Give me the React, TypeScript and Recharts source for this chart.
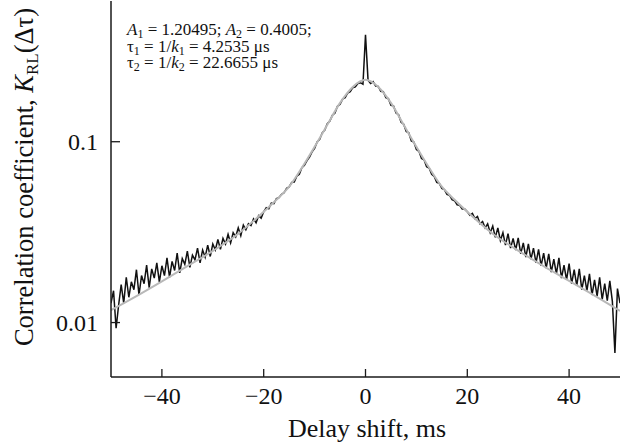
import { LineChart, Line, XAxis, YAxis } from 'recharts';

// measured correlation, sampled every 0.5 ms from -50 ms
const DELAY_START = -50;
const DELAY_STEP = 0.5;
const K_MEASURED = [
  0.0128, 0.015, 0.0093, 0.0125, 0.0162, 0.0128, 0.0178, 0.0138, 0.0168, 0.0152,
  0.0196, 0.0142, 0.0182, 0.0164, 0.0208, 0.0156, 0.0198, 0.0176, 0.0214, 0.0168,
  0.0206, 0.0182, 0.0228, 0.0178, 0.0218, 0.0194, 0.0242, 0.0188, 0.0226, 0.021,
  0.0248, 0.0202, 0.0236, 0.0222, 0.0258, 0.0214, 0.0252, 0.023, 0.0268, 0.0232,
  0.0272, 0.0252, 0.0288, 0.0254, 0.0292, 0.0272, 0.0308, 0.0276, 0.0314, 0.0298,
  0.0334, 0.0302, 0.0346, 0.0326, 0.0352, 0.0344, 0.0374, 0.0356, 0.039, 0.0378,
  0.041,
  0.0432, 0.0426, 0.0458, 0.0455, 0.0484, 0.049, 0.0512, 0.0522, 0.0552, 0.0562,
  0.0596, 0.0598, 0.0645, 0.066, 0.0718, 0.074, 0.0786, 0.0822, 0.0878, 0.092,
  0.0996, 0.103, 0.112, 0.116, 0.126, 0.13, 0.14, 0.144, 0.157, 0.161,
  0.172, 0.175, 0.186, 0.189, 0.199, 0.201, 0.21, 0.212, 0.208,
  0.39,
  0.219, 0.21, 0.215, 0.203, 0.202, 0.19, 0.189, 0.175, 0.173, 0.159,
  0.158, 0.144, 0.141, 0.128, 0.125, 0.114, 0.112, 0.101, 0.0995, 0.0905,
  0.0885, 0.0808, 0.0795, 0.0728, 0.0715, 0.066, 0.0642, 0.0596, 0.0588, 0.0552,
  0.0543, 0.0512, 0.0506, 0.0478, 0.0472, 0.0448, 0.0445, 0.0424, 0.0424,
  0.041, 0.0392, 0.0402, 0.0376, 0.0386, 0.0352, 0.0362, 0.0334, 0.0352, 0.0314,
  0.0342, 0.0296, 0.0334, 0.0284, 0.0314, 0.0268, 0.031, 0.0258, 0.0292, 0.0252,
  0.0294, 0.024, 0.0276, 0.023, 0.0272, 0.0224, 0.0258, 0.0214, 0.0254, 0.0206,
  0.0242, 0.02, 0.024, 0.019, 0.0224, 0.0186, 0.0228, 0.0176, 0.0208, 0.0172,
  0.0212, 0.0164, 0.0196, 0.016, 0.0198, 0.0152, 0.0182, 0.015, 0.0186, 0.0142,
  0.0172, 0.014, 0.0178, 0.0134, 0.0164, 0.0132, 0.017, 0.0131, 0.0068, 0.0154,
  0.0128,
];

// two-exponential fit (gray curve)
const FIT_DELAY = [
  -50, -45, -40, -35, -30, -25, -20, -17.5, -15, -12.5, -10, -7.5, -5, -2.5, 0,
  2.5, 5, 7.5, 10, 12.5, 15, 17.5, 20, 25, 30, 35, 40, 45, 50,
];
const FIT_K = [
  0.0117, 0.014, 0.0169, 0.0205, 0.0249, 0.031, 0.041, 0.0478, 0.0564, 0.0718,
  0.0938, 0.124, 0.164, 0.201, 0.22, 0.201, 0.164, 0.124, 0.0938, 0.0718,
  0.0564, 0.0478, 0.041, 0.031, 0.025, 0.0205, 0.017, 0.0141, 0.0116,
];

const X_TICKS = [-40, -20, 0, 20, 40];
const Y_TICKS = [0.01, 0.1];

const FONT = '"Liberation Serif", "DejaVu Serif", serif';
const AXIS_COLOR = '#1a1a1a';
const TEXT_COLOR = '#111';

const measured = K_MEASURED.map((k, i) => ({ t: DELAY_START + i * DELAY_STEP, k }));
const fit = FIT_DELAY.map((t, i) => ({ t, k: FIT_K[i] }));

const fmtX = (v: number) => (v < 0 ? `\u2212${Math.abs(v)}` : `${v}`);

function XTick({ x, y, payload }: any) {
  return (
    <g>
      <line x1={x} x2={x} y1={y} y2={y - 8} stroke={AXIS_COLOR} strokeWidth={1.3} />
      <text x={x} y={y + 27} textAnchor="middle" style={{ fontFamily: FONT, fontSize: 24 }} fill={TEXT_COLOR}>
        {fmtX(payload.value)}
      </text>
    </g>
  );
}

function YTick({ x, y, payload }: any) {
  return (
    <g>
      <line x1={x} x2={x + 9} y1={y} y2={y} stroke={AXIS_COLOR} strokeWidth={1.3} />
      <text x={x - 13} y={y + 8} textAnchor="end" style={{ fontFamily: FONT, fontSize: 24 }} fill={TEXT_COLOR}>
        {payload.value}
      </text>
    </g>
  );
}

export default function App() {
  return (
    <div style={{ position: 'absolute', left: 0, top: 0, background: '#fff' }}>
      <LineChart width={624} height={447} margin={{ top: 1, right: 4, bottom: 0, left: 0 }}>
        <XAxis
          dataKey="t"
          type="number"
          domain={[-50, 50]}
          ticks={X_TICKS}
          allowDataOverflow
          height={70}
          tickSize={0}
          tickMargin={0}
          tickLine={false}
          tick={<XTick />}
          stroke={AXIS_COLOR}
          strokeWidth={1.5}
        />
        <YAxis
          dataKey="k"
          scale="log"
          domain={[0.005, 0.6]}
          ticks={Y_TICKS}
          allowDataOverflow
          width={111}
          tickSize={0}
          tickMargin={0}
          tickLine={false}
          tick={<YTick />}
          stroke={AXIS_COLOR}
          strokeWidth={1.5}
        />
        <Line
          data={measured}
          dataKey="k"
          type="linear"
          stroke="#111"
          strokeWidth={1.5}
          dot={false}
          isAnimationActive={false}
        />
        <Line
          data={fit}
          dataKey="k"
          type="monotone"
          stroke="#b8b8b8"
          strokeWidth={2}
          dot={false}
          isAnimationActive={false}
        />
        <text
          transform="translate(33, 177) rotate(-90)"
          textAnchor="middle"
          style={{ fontFamily: FONT, fontSize: 26.5 }}
          fill={TEXT_COLOR}
        >
          Correlation coefficient, <tspan fontStyle="italic">K</tspan>
          <tspan style={{ fontSize: 17 }} dy={5}>RL</tspan>
          <tspan dy={-5}>(Δτ)</tspan>
        </text>
        <text x={367} y={437} textAnchor="middle" style={{ fontFamily: FONT, fontSize: 26 }} fill={TEXT_COLOR}>
          Delay shift, ms
        </text>
        <g style={{ fontFamily: FONT, fontSize: 17 }} fill={TEXT_COLOR}>
          <text x={127} y={35}>
            <tspan fontStyle="italic">A</tspan>
            <tspan style={{ fontSize: 12 }} dy={3}>1</tspan>
            <tspan dy={-3}> = 1.20495; </tspan>
            <tspan fontStyle="italic">A</tspan>
            <tspan style={{ fontSize: 12 }} dy={3}>2</tspan>
            <tspan dy={-3}> = 0.4005;</tspan>
          </text>
          <text x={127} y={51.5}>
            τ<tspan style={{ fontSize: 12 }} dy={3}>1</tspan>
            <tspan dy={-3}> = 1/</tspan>
            <tspan fontStyle="italic">k</tspan>
            <tspan style={{ fontSize: 12 }} dy={3}>1</tspan>
            <tspan dy={-3}> = 4.2535 μs</tspan>
          </text>
          <text x={127} y={68}>
            τ<tspan style={{ fontSize: 12 }} dy={3}>2</tspan>
            <tspan dy={-3}> = 1/</tspan>
            <tspan fontStyle="italic">k</tspan>
            <tspan style={{ fontSize: 12 }} dy={3}>2</tspan>
            <tspan dy={-3}> = 22.6655 μs</tspan>
          </text>
        </g>
      </LineChart>
    </div>
  );
}
